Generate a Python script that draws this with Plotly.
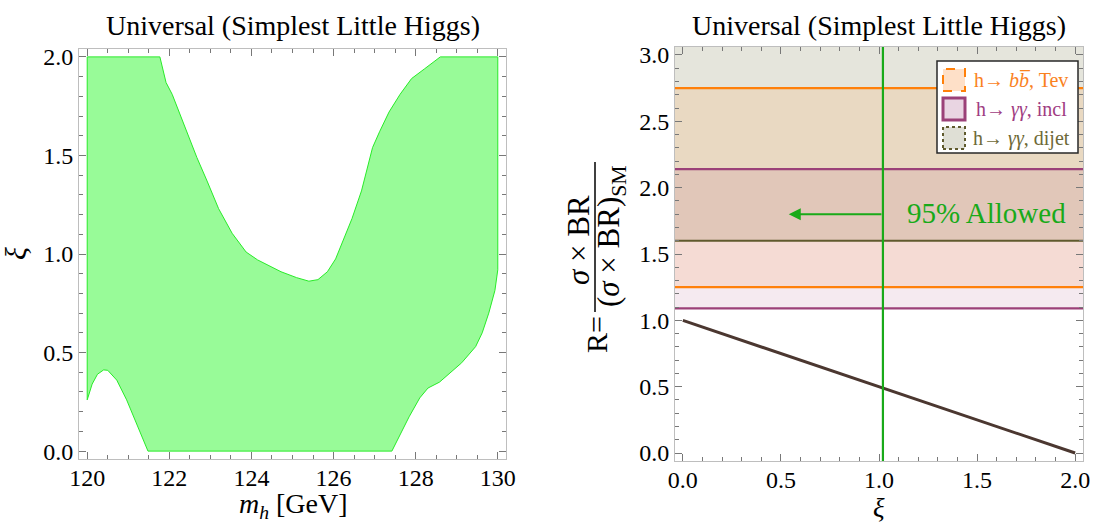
import plotly.graph_objects as go

W, H = 1101, 523

# ---------------- Left panel: allowed region in (m_h, xi) ----------------
region_mh = [120.0, 120.0, 121.77, 121.92, 122.07, 122.35, 122.67, 122.92, 123.2, 123.53,
             123.87, 124.15, 124.72, 125.1, 125.4, 125.62, 125.85, 126.05, 126.22, 126.45, 126.68,
             126.95, 127.12, 127.35, 127.62, 127.9, 128.22, 128.6, 130.0, 130.0, 129.93,
             129.78, 129.62, 129.46, 129.12, 128.9, 128.58, 128.3, 128.1, 127.84, 127.42,
             121.48, 121.21, 120.96, 120.72, 120.5, 120.4, 120.25, 120.12, 120.0]
region_xi = [0.26, 2.0, 2.0, 1.87, 1.81, 1.66, 1.49, 1.37, 1.23, 1.105,
             1.01, 0.97, 0.91, 0.88, 0.862, 0.87, 0.91, 0.975, 1.06, 1.18, 1.32,
             1.54, 1.62, 1.72, 1.81, 1.89, 1.94, 2.0, 2.0, 0.92, 0.815,
             0.70, 0.60, 0.53, 0.448, 0.41, 0.35, 0.32, 0.27, 0.174, 0.0,
             0.0, 0.14, 0.26, 0.36, 0.41, 0.412, 0.39, 0.34, 0.26]

# ---------------- Right panel ----------------
xi_vals = [0.0, 0.5, 1.0, 1.5, 2.0]
R_vals = [1.0, 0.75, 0.5, 0.25, 0.0]
channel_names = ["h\u2192 <i>b</i><i>b\u0305</i>, Tev", "h\u2192 <i>\u03b3\u03b3</i>, incl",
                 "h\u2192 <i>\u03b3\u03b3</i>, dijet"]
band_low = [1.25, 1.09, 1.60]
band_high = [2.75, 2.14, 3.40]
band_fill = ["rgba(255,150,50,0.15)", "rgba(155,50,110,0.10)", "rgba(110,110,60,0.18)"]
band_line = ["rgb(255,128,10)", "rgb(155,65,120)", "rgb(95,90,45)"]
swatch_fill = ["rgb(254,224,200)", "rgb(233,213,226)", "rgb(223,223,213)"]
swatch_dash = ["dash", "solid", "dot"]
swatch_width = [2, 3, 2]
text_col = ["rgb(250,130,30)", "rgb(160,60,130)", "rgb(110,105,55)"]
xi_limit = 1.02
arrow_tip = 0.54
arrow_R = 1.80

FONT = "Liberation Serif"
GREEN = "rgb(25,170,25)"
TICKC = "rgb(120,120,120)"


def px(x):
    return x / W


def py(y):
    return 1 - y / H


fig = go.Figure()

fig.add_trace(go.Scatter(x=region_mh, y=region_xi, mode="lines", fill="toself",
                         fillcolor="rgb(152,251,152)", line=dict(color="rgb(40,235,40)", width=1),
                         xaxis="x", yaxis="y", showlegend=False, hoverinfo="skip"))

fig.add_trace(go.Scatter(x=xi_vals, y=R_vals, mode="lines",
                         line=dict(color="rgb(75,55,48)", width=3),
                         xaxis="x2", yaxis="y2", showlegend=False, hoverinfo="skip"))

shapes = []
for i in [2, 0, 1]:
    shapes.append(dict(type="rect", xref="x2 domain", yref="y2", x0=0, x1=1,
                       y0=band_low[i], y1=band_high[i], fillcolor=band_fill[i],
                       line=dict(width=0), layer="below"))
for i in range(3):
    for yv in (band_low[i], band_high[i]):
        shapes.append(dict(type="line", xref="x2 domain", yref="y2", x0=0, x1=1,
                           y0=yv, y1=yv, line=dict(color=band_line[i], width=2.2), layer="below"))
shapes.append(dict(type="line", xref="x2", yref="y2 domain", x0=xi_limit, x1=xi_limit,
                   y0=0, y1=1, line=dict(color=GREEN, width=2.2)))

# legend box
lx0, lx1, ly0, ly1 = 937, 1078, 61, 153
shapes.append(dict(type="rect", xref="paper", yref="paper", x0=px(lx0), x1=px(lx1),
                   y0=py(ly1), y1=py(ly0), fillcolor="white",
                   line=dict(color="rgb(40,40,40)", width=1.5)))
sw_centers = [80, 109, 138]
annotations = []
for i in range(3):
    cy = sw_centers[i]
    shapes.append(dict(type="rect", xref="paper", yref="paper", x0=px(943), x1=px(965),
                       y0=py(cy + 11), y1=py(cy - 11), fillcolor=swatch_fill[i],
                       line=dict(color=band_line[i], width=swatch_width[i], dash=swatch_dash[i])))
    annotations.append(dict(xref="paper", yref="paper", x=px(1021), y=py(cy), text=channel_names[i],
                            showarrow=False, xanchor="center", yanchor="middle",
                            font=dict(family=FONT, size=20, color=text_col[i])))

# fraction bar of the y label
shapes.append(dict(type="line", xref="paper", yref="paper", x0=px(595), x1=px(595),
                   y0=py(162), y1=py(312), line=dict(color="black", width=1.5)))

# arrow and text
annotations.append(dict(xref="x2", yref="y2", x=arrow_tip, y=arrow_R, ax=xi_limit, ay=arrow_R,
                        axref="x2", ayref="y2", showarrow=True, arrowhead=2, arrowsize=1.2,
                        arrowwidth=2, arrowcolor=GREEN, text=""))
annotations.append(dict(xref="x2", yref="y2", x=1.55, y=1.81, text="95% Allowed", showarrow=False,
                        font=dict(family=FONT, size=29, color=GREEN)))

# titles
for cx in (293, 879):
    annotations.append(dict(xref="paper", yref="paper", x=px(cx), y=py(25),
                            text="Universal (Simplest Little Higgs)", showarrow=False,
                            xanchor="center", yanchor="middle",
                            font=dict(family=FONT, size=28, color="black")))
# axis titles
annotations.append(dict(xref="paper", yref="paper", x=px(293), y=py(505),
                        text="<i>m</i><sub><i>h</i></sub> [GeV]", showarrow=False,
                        xanchor="center", yanchor="middle", font=dict(family=FONT, size=28, color="black")))
annotations.append(dict(xref="paper", yref="paper", x=px(879), y=py(508), text="<i>\u03be</i>",
                        showarrow=False, xanchor="center", yanchor="middle",
                        font=dict(family=FONT, size=27, color="black")))
annotations.append(dict(xref="paper", yref="paper", x=px(15), y=py(254), text="<i>\u03be</i>",
                        showarrow=False, xanchor="center", yanchor="middle", textangle=-90,
                        font=dict(family=FONT, size=30, color="black")))
annotations.append(dict(xref="paper", yref="paper", x=px(596), y=py(335), text="R=",
                        showarrow=False, xanchor="center", yanchor="middle", textangle=-90,
                        font=dict(family=FONT, size=30, color="black")))
annotations.append(dict(xref="paper", yref="paper", x=px(579), y=py(240),
                        text="<i>\u03c3</i> \u00d7 BR",
                        showarrow=False, xanchor="center", yanchor="middle", textangle=-90,
                        font=dict(family=FONT, size=31, color="black")))
annotations.append(dict(xref="paper", yref="paper", x=px(611), y=py(236),
                        text="(<i>\u03c3</i> \u00d7 BR)<sub>SM</sub>",
                        showarrow=False, xanchor="center", yanchor="middle", textangle=-90,
                        font=dict(family=FONT, size=31, color="black")))

axis_common = dict(showline=True, linecolor="rgb(190,190,190)", linewidth=1, mirror="ticks",
                   ticks="inside", ticklen=7, tickcolor=TICKC, tickwidth=1,
                   showgrid=False, zeroline=False, automargin=False,
                   tickfont=dict(family=FONT, size=24, color="black"))
minor_common = dict(ticks="inside", ticklen=4, tickcolor=TICKC)

fig.update_layout(
    width=W, height=H, margin=dict(l=0, r=0, t=0, b=0, pad=0),
    font=dict(family=FONT, color="black"),
    paper_bgcolor="white", plot_bgcolor="white", showlegend=False,
    xaxis=dict(domain=[px(79), px(506)], range=[119.8, 130.2], tick0=120, dtick=2,
               minor=dict(dtick=0.5, **minor_common), ticklabelstandoff=-3,
               anchor="y", **axis_common),
    yaxis=dict(domain=[py(459), py(49)], range=[-0.04, 2.04], tick0=0, dtick=0.5, tickformat=".1f",
               minor=dict(dtick=0.1, **minor_common), anchor="x", **axis_common),
    xaxis2=dict(domain=[px(675), px(1083)], range=[-0.04, 2.04], tick0=0, dtick=0.5, tickformat=".1f",
                minor=dict(dtick=0.1, **minor_common), ticklabelstandoff=-3,
                anchor="y2", **axis_common),
    yaxis2=dict(domain=[py(461), py(47)], range=[-0.06, 3.06], tick0=0, dtick=0.5, tickformat=".1f",
                minor=dict(dtick=0.1, **minor_common), anchor="x2", **axis_common),
    shapes=shapes, annotations=annotations,
)

fig.write_html("out.html", config={"displayModeBar": False},
               post_script="document.body.style.margin='0';document.body.style.overflow='hidden';")
